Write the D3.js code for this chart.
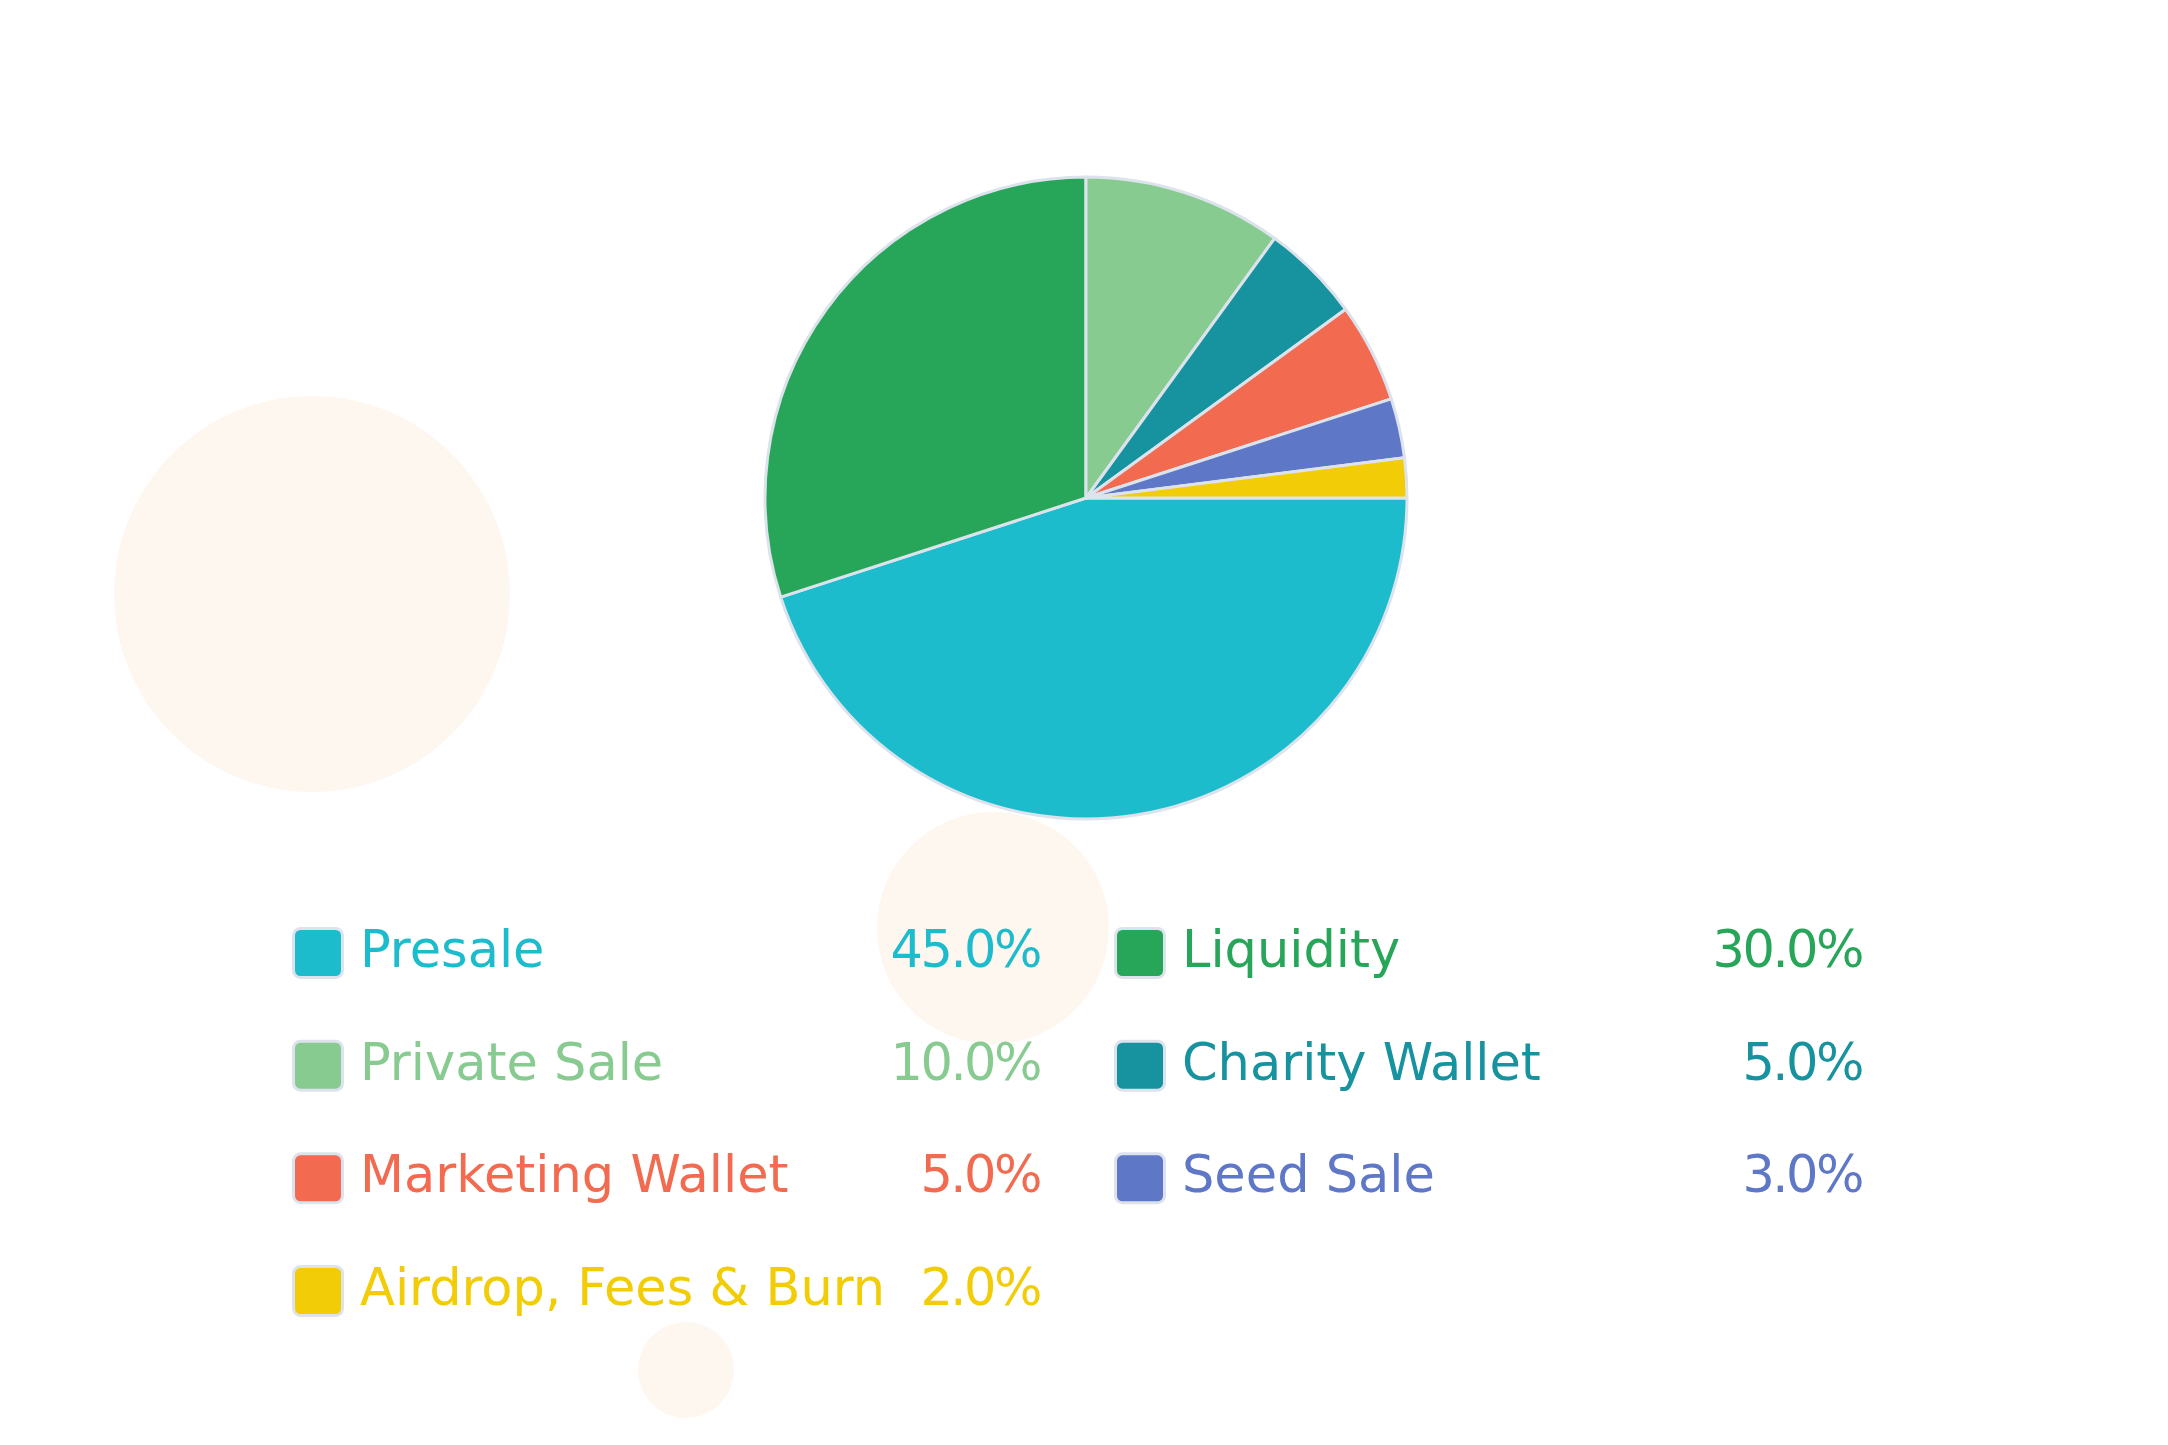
<!DOCTYPE html>
<html>
<head>
<meta charset="utf-8">
<script src="https://cdn.jsdelivr.net/npm/d3@7"></script>
<style>
  html, body { margin: 0; padding: 0; background: #ffffff; }
  svg { display: block; }
</style>
</head>
<body>
<svg id="chart" width="2168" height="1445"></svg>
<script>
const categories = ["Presale", "Liquidity", "Private Sale", "Charity Wallet", "Marketing Wallet", "Seed Sale", "Airdrop, Fees & Burn"];
const values = [45, 30, 10, 5, 5, 3, 2];
const colors = ["#1dbccd", "#27a65a", "#88cb91", "#1793a0", "#f26b50", "#5f77c7", "#f2cd07"];
const decoCircles = [
  { cx: 312, cy: 594, r: 198 },
  { cx: 993, cy: 928, r: 116 },
  { cx: 686, cy: 1370, r: 48 }
];

const W = 2168, H = 1445;
const svg = d3.select("#chart");

// decorative background circles
svg.append("g").selectAll("circle").data(decoCircles).join("circle")
  .attr("cx", d => d.cx).attr("cy", d => d.cy).attr("r", d => d.r)
  .attr("fill", "#fef7f0");

// pie
const data = categories.map((c, i) => ({ name: c, value: values[i], color: colors[i] }));
const cx = 1086, cy = 498, R = 321;
const pie = d3.pie().value(d => d.value).sort(null)
  .startAngle(Math.PI / 2).endAngle(Math.PI / 2 + 2 * Math.PI);
const arc = d3.arc().innerRadius(0).outerRadius(R);
svg.append("g").attr("transform", `translate(${cx},${cy})`)
  .selectAll("path").data(pie(data)).join("path")
  .attr("d", arc)
  .attr("fill", d => d.data.color)
  .attr("stroke", "#dde3ec")
  .attr("stroke-width", 3)
  .attr("stroke-linejoin", "round");

// legend (2 columns, row-wise)
const colX = [292, 1114];
const colEnd = [1040, 1862];
const rowY = d3.scalePoint().domain([0, 1, 2, 3]).range([953, 1291]);
const legend = svg.append("g").attr("font-family", "'DejaVu Sans', sans-serif").attr("font-size", 51);
const items = legend.selectAll("g.item").data(data).join("g").attr("class", "item")
  .attr("transform", (d, i) => `translate(0,${rowY(Math.floor(i / 2))})`);
items.append("rect")
  .attr("x", (d, i) => colX[i % 2] + 1.5).attr("y", -24.5)
  .attr("width", 49).attr("height", 49)
  .attr("rx", 7).attr("ry", 7)
  .attr("fill", d => d.color)
  .attr("stroke", "#dde3ec").attr("stroke-width", 3);
items.append("text")
  .attr("x", (d, i) => colX[i % 2] + 68).attr("y", 14)
  .attr("fill", d => d.color)
  .text(d => d.name);
items.append("text")
  .attr("x", (d, i) => colEnd[i % 2]).attr("y", 14)
  .attr("text-anchor", "end")
  .attr("letter-spacing", -2.5)
  .attr("fill", d => d.color)
  .text(d => d.value.toFixed(1) + "%");
</script>
</body>
</html>
